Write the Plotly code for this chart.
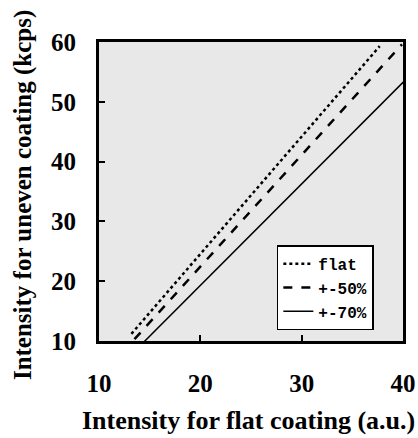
import plotly.graph_objects as go

# Data (endpoints)
series_names = ["flat", "+-50%", "+-70%"]
flat_x = [13.2, 37.7]
flat_y = [11.2, 59.3]
p50_x = [13.5, 39.9]
p50_y = [10.3, 59.6]
p70_x = [14.35, 40.5]
p70_y = [9.7, 54.1]

x_ticks = [10, 20, 30, 40]
y_ticks = [10, 20, 30, 40, 50, 60]
x_title = "Intensity for flat coating (a.u.)"
y_title = "Intensity for uneven coating (kcps)"

serif = "Liberation Serif"
mono = "Liberation Mono"

fig = go.Figure()
fig.add_trace(go.Scatter(x=flat_x, y=flat_y, mode="lines", name=series_names[0],
                         line=dict(color="black", width=2.5, dash="dot")))
fig.add_trace(go.Scatter(x=p50_x, y=p50_y, mode="lines", name=series_names[1],
                         line=dict(color="black", width=2.5, dash="dash")))
fig.add_trace(go.Scatter(x=p70_x, y=p70_y, mode="lines", name=series_names[2],
                         line=dict(color="black", width=1.5)))

fig.update_layout(
    width=418, height=438,
    margin=dict(l=99, r=15, t=42, b=97),
    paper_bgcolor="white",
    plot_bgcolor="#e8e8e8",
    font=dict(family=serif, color="black"),
    legend=dict(
        x=0.585, y=0.32, xanchor="left", yanchor="top",
        bgcolor="white", bordercolor="black", borderwidth=1.5,
        font=dict(family=mono, size=16, color="black", weight="bold"),
        itemwidth=30, tracegroupgap=0,
    ),
    xaxis=dict(
        range=[10, 40], tickvals=x_ticks, ticks="inside", ticklen=6, tickwidth=1.5,
        tickcolor="black", showgrid=False, zeroline=False, automargin=False,
        showline=True, linecolor="black", linewidth=3, mirror=True,
        tickfont=dict(family=serif, size=25, color="black", weight="bold"),
        ticklabelstandoff=18,
    ),
    yaxis=dict(
        range=[10, 60], tickvals=y_ticks, ticks="inside", ticklen=6, tickwidth=1.5,
        tickcolor="black", showgrid=False, zeroline=False, automargin=False,
        showline=True, linecolor="black", linewidth=3, mirror=True,
        tickfont=dict(family=serif, size=25, color="black", weight="bold"),
        ticklabelstandoff=15,
    ),
    annotations=[
        dict(text="<b>" + x_title + "</b>", xref="paper", yref="paper",
             x=0.493, y=-0.266, xanchor="center", yanchor="middle", showarrow=False,
             font=dict(family=serif, size=26, color="black")),
        dict(text="<b>" + y_title + "</b>", xref="paper", yref="paper",
             x=-0.25, y=0.488, xanchor="center", yanchor="middle", showarrow=False,
             textangle=-90, font=dict(family=serif, size=25, color="black")),
    ],
)

fig.write_html("out.html")
